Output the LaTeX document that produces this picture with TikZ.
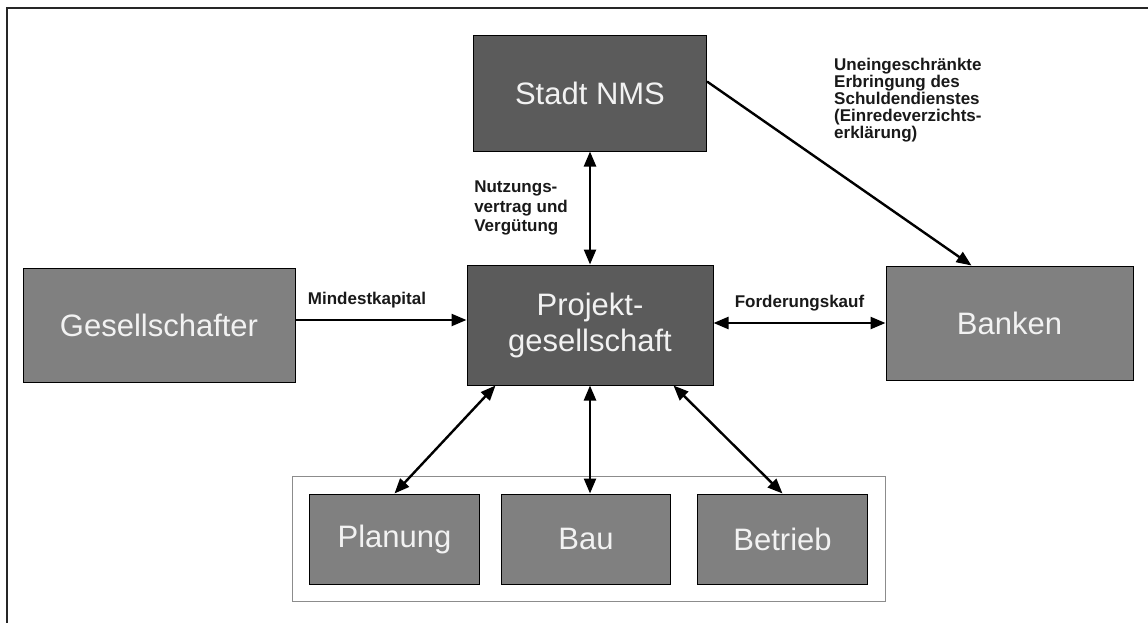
\documentclass[tikz,border=0pt]{standalone}
\usepackage{fontspec}
\setmainfont{Liberation Sans}
\usetikzlibrary{arrows.meta,positioning,fit}
\definecolor{boxgray}{HTML}{808080}
\definecolor{boxdark}{HTML}{5B5B5B}

\begin{document}
\begin{tikzpicture}[
    x=1pt, y=-1pt,
    node distance=108pt,
    every node/.style={font=\fontsize{31}{36}\selectfont},
    party/.style={draw, line width=1pt, align=center, fill=boxgray, text=white!95!black, minimum width=272pt, minimum height=114pt},
    core/.style={party, fill=boxdark},
    phase/.style={party, minimum width=170pt, minimum height=90pt},
    lbl/.style={font=\fontsize{17}{19.5}\selectfont\bfseries, align=left, inner sep=0pt, text=black!90},
    arrow/.style={-{Triangle[length=15pt,width=12pt]}, line width=2.4pt},
    dblarrow/.style={{Triangle[length=15pt,width=12pt]}-{Triangle[length=15pt,width=12pt]}, line width=2.4pt}
]
\useasboundingbox (0,0) rectangle (1148,623);
\draw[line width=2pt, black!85] (1148,8) -- (7,8) -- (7,623);

\node[core, minimum width=246pt, minimum height=120pt] (pg) at (590,325) {Projekt-\\gesellschaft};
\node[core, minimum width=233pt, minimum height=115pt, above=113pt of pg] (stadt) {Stadt NMS};
\node[party, left=171pt of pg] (ges) {Gesellschafter};
\node[party, minimum width=247pt, right=172pt of pg, yshift=2pt] (banken) {Banken};
\node[phase, minimum width=169pt, below=108pt of pg, xshift=-4pt] (bau) {Bau};
\node[phase, left=21pt of bau] (planung) {Planung};
\node[phase, right=26pt of bau] (betrieb) {Betrieb};
\node[draw=black!45, line width=1pt, inner sep=17pt, fit=(planung)(betrieb)] (phasen) {};

\node[lbl, below right=22pt and 127pt of stadt.north east, font=\fontsize{17}{17}\selectfont\bfseries] (verzicht) {Uneingeschränkte\\Erbringung des\\Schuldendienstes\\(Einredeverzichts-\\erklärung)};

\draw[dblarrow] (stadt.south) -- node[lbl, left=21pt] {Nutzungs-\\vertrag und\\Vergütung} (pg.north);
\draw[arrow] ([yshift=5pt]ges.east) -- node[lbl, above=11pt, xshift=-14pt] {Mindestkapital} ([yshift=5pt]ges.east -| pg.west);
\draw[dblarrow] (pg.east |- banken.west) -- node[lbl, above=11pt] {Forderungskauf} (banken.west);
\draw[arrow] ([yshift=12pt]stadt.east) -- ([xshift=86pt]banken.north west);
\draw[dblarrow] ([xshift=29pt]pg.south west) -- (planung.north);
\draw[dblarrow] (pg.south) -- (pg.south |- bau.north);
\draw[dblarrow] ([xshift=-40pt]pg.south east) -- (betrieb.north);
\end{tikzpicture}
\end{document}
